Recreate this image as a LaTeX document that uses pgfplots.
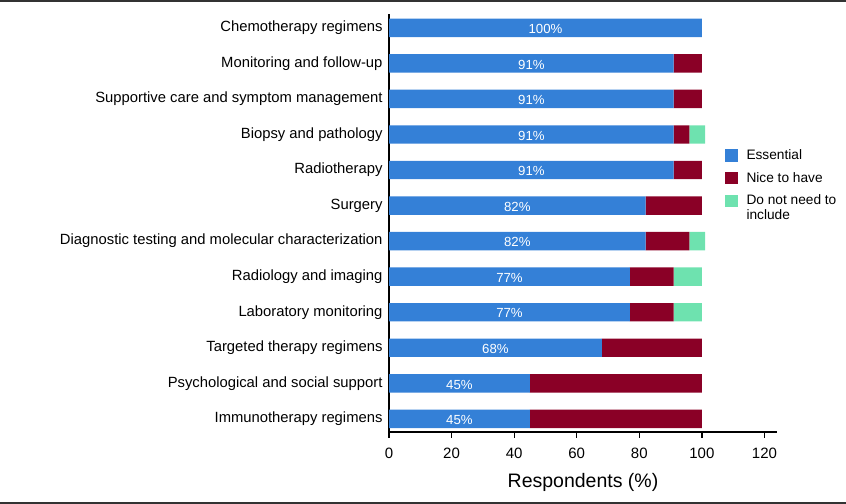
\documentclass[border=0pt]{standalone}
\usepackage{pgfplots}
\pgfplotsset{compat=1.18}
\usepackage{pgfplotstable}
\usepackage{fontspec}
\setmainfont{Liberation Sans}

\definecolor{essblue}{HTML}{3480D7}
\definecolor{niceRed}{HTML}{8A0026}
\definecolor{noGreen}{HTML}{6EE2AF}

% y = row (0 = bottom), e = essential, n = nice to have, d = do not need
\pgfplotstableread{
y e n d
0 45 55 0
1 45 55 0
2 68 32 0
3 77 14 9
4 77 14 9
5 82 14 5
6 82 18 0
7 91 9 0
8 91 5 5
9 91 9 0
10 91 9 0
11 100 0 0
}\survey

\pgfplotsset{frame/.style={
  at={(389bp,72bp)}, anchor=south west,
  scale only axis, width=388bp, height=418bp,
  xmin=0, xmax=124, ymin=-0.37, ymax=11.39,
  /pgf/number format/assume math mode=true}}

\begin{document}
\begin{tikzpicture}
\useasboundingbox (0,0) rectangle (846bp,504bp);
\draw[line width=1.5bp, black!80] (0,503.2bp) -- (846bp,503.2bp);
\draw[line width=1.5bp, black!80] (0,0.8bp) -- (846bp,0.8bp);
\begin{axis}[frame,
  xbar stacked, bar width=18.4bp,
  axis x line*=bottom, axis y line*=left,
  axis line style={line width=1.6bp, black},
  xtick={0,20,...,120},
  ytick={0,...,11},
  yticklabels={Immunotherapy regimens, Psychological and social support,
    Targeted therapy regimens, Laboratory monitoring, Radiology and imaging,
    Diagnostic testing and molecular characterization, Surgery, Radiotherapy,
    Biopsy and pathology, Supportive care and symptom management,
    Monitoring and follow-up, Chemotherapy regimens},
  y tick style={draw=none},
  x tick style={line width=1.2bp, black},
  tick align=outside, major tick length=6bp,
  xticklabel style={font=\fontsize{15bp}{18bp}\selectfont, yshift=-7bp},
  yticklabel style={font=\fontsize{14.8bp}{18bp}\selectfont, xshift=3bp},
  xlabel={Respondents (\%)},
  xlabel style={font=\fontsize{19.5bp}{22bp}\selectfont, yshift=-7bp},
  legend style={at={(0.866,0.6823)}, anchor=north west, draw=none,
    inner sep=0pt, fill=none, column sep=7bp, row sep=6.7bp,
    font=\fontsize{13.7bp}{15bp}\selectfont,
    cells={anchor=base west, inner sep=0pt}},
  legend image code/.code={\fill[#1] (0bp,-2.3bp) rectangle (12.3bp,10bp);},
]
\addplot[fill=essblue, draw=none] table[x=e, y=y] {\survey};
\addlegendentry{\strut Essential}
\addplot[fill=niceRed, draw=none] table[x=n, y=y] {\survey};
\addlegendentry{\strut Nice to have}
\addplot[fill=noGreen, draw=none] table[x=d, y=y] {\survey};
\addlegendentry{\vtop{\hbox{\strut Do not need to}\hbox{\strut include}}}
\end{axis}
% percentage labels, centred on the blue segments
\begin{axis}[frame, hide axis]
\addplot[draw=none, mark=none,
  nodes near coords={\pgfmathprintnumber{\pgfplotspointmeta}\%},
  point meta=\thisrow{e},
  every node near coord/.append style={anchor=center, text=white,
    font=\fontsize{13.2bp}{15bp}\selectfont, yshift=-1.2bp}]
  table[x expr=\thisrow{e}/2, y=y] {\survey};
\end{axis}
\end{tikzpicture}
\end{document}
